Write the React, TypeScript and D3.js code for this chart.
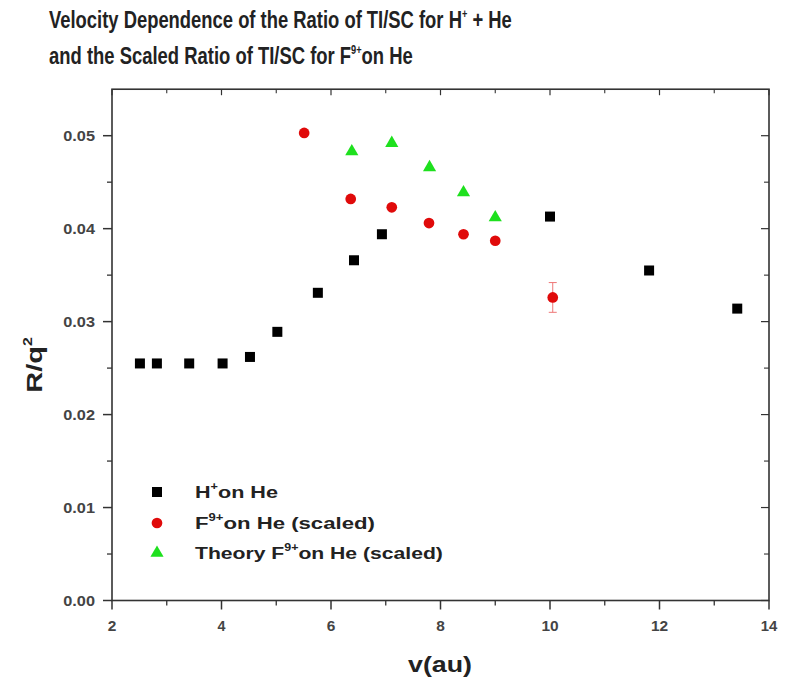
import React, { useLayoutEffect, useRef, useState } from "react";
import * as d3 from "d3";

const hV = [2.51, 2.82, 3.41, 4.02, 4.52, 5.02, 5.76, 6.42, 6.93, 10.0, 11.81, 13.42];
const hR = [0.0255, 0.0255, 0.0255, 0.0255, 0.0262, 0.0289, 0.0331, 0.0366, 0.0394, 0.0413, 0.0355, 0.0314];

const fV = [5.51, 6.36, 7.11, 7.79, 8.42, 9.0, 10.05];
const fR = [0.0503, 0.0432, 0.0423, 0.0406, 0.0394, 0.0387, 0.0326];
const fErr = [0, 0, 0, 0, 0.0003, 0, 0.0016];

const tV = [6.38, 7.11, 7.8, 8.42, 9.0];
const tR = [0.0484, 0.0493, 0.0467, 0.044, 0.0413];

const xTicks = [2, 4, 6, 8, 10, 12, 14];
const xMinor = [3, 5, 7, 9, 11, 13];
const yTicks = [0, 0.01, 0.02, 0.03, 0.04, 0.05];
const yMinor = [0.005, 0.015, 0.025, 0.035, 0.045];

const RED = "#e00a0a";
const GREEN = "#1ee01e";
const AX = "#333";
const FONT = "'Liberation Sans', Arial, sans-serif";

function Fit(props: any) {
  const { x, y, w, anchor = "start", children, ...rest } = props;
  const ref = useRef<SVGTextElement>(null);
  const [s, setS] = useState(1);
  useLayoutEffect(() => {
    if (ref.current) {
      const bw = ref.current.getBBox().width;
      if (bw > 0) setS(w / bw);
    }
  }, [w]);
  return (
    <g transform={`translate(${x},${y}) scale(${s},1)`}>
      <text ref={ref} x={0} y={0} textAnchor={anchor} {...rest}>
        {children}
      </text>
    </g>
  );
}

export default function App() {
  const W = 805, H = 681;
  const L = 112, R = 769, B = 600.5;
  const x = d3.scaleLinear().domain([2, 14]).range([L, R]);
  const y = d3.scaleLinear().domain([0, 0.055]).range([B, B - (0.055 / 0.01) * 92.96]);
  const yTop = y(0.055);
  const tri = d3.symbol().type(d3.symbolTriangle).size(75)();
  const circ = d3.symbol().type(d3.symbolCircle).size(90)();
  const sq = 10;

  return (
    <svg width={W} height={H} style={{ position: "absolute", left: 0, top: 0, background: "#fff" }} fontFamily={FONT}>
      <rect width={W} height={H} fill="#fff" />
      {/* Title */}
      <Fit x={49} y={28} w={463} fontSize={24} fontWeight="bold" fill="#222">
        Velocity Dependence of the Ratio of TI/SC for H<tspan dy={-10} fontSize={12}>+</tspan>
        <tspan dy={10}> + He</tspan>
      </Fit>
      <Fit x={49} y={64} w={364} fontSize={24} fontWeight="bold" fill="#222">
        and the Scaled Ratio of TI/SC for F<tspan dy={-10} fontSize={12}>9+</tspan>
        <tspan dy={10}>on He</tspan>
      </Fit>

      {/* Frame */}
      <rect x={L} y={yTop} width={R - L} height={B - yTop} fill="none" stroke={AX} strokeWidth={1.6} />

      {/* X ticks */}
      {xTicks.map((t) => (
        <g key={"xt" + t}>
          <line x1={x(t)} x2={x(t)} y1={B} y2={B + 9} stroke={AX} strokeWidth={1.5} />
          <line x1={x(t)} x2={x(t)} y1={yTop} y2={yTop + 6} stroke={AX} strokeWidth={1.2} />
          <Fit x={x(t)} y={631} w={String(t).length * 8.6} anchor="middle" fontSize={15} fontWeight="bold" fill="#444">
            {t}
          </Fit>
        </g>
      ))}
      {xMinor.map((t) => (
        <g key={"xm" + t}>
          <line x1={x(t)} x2={x(t)} y1={B} y2={B + 5} stroke={AX} strokeWidth={1.3} />
          <line x1={x(t)} x2={x(t)} y1={yTop} y2={yTop + 4} stroke={AX} strokeWidth={1.1} />
        </g>
      ))}
      {/* Y ticks */}
      {yTicks.map((t) => (
        <g key={"yt" + t}>
          <line x1={L - 9} x2={L} y1={y(t)} y2={y(t)} stroke={AX} strokeWidth={1.5} />
          <line x1={R - 8} x2={R} y1={y(t)} y2={y(t)} stroke={AX} strokeWidth={1.2} />
          <Fit x={95} y={y(t) + 5} w={32} anchor="end" fontSize={14} fontWeight="bold" fill="#444">
            {t.toFixed(2)}
          </Fit>
        </g>
      ))}
      {yMinor.map((t) => (
        <g key={"ym" + t}>
          <line x1={L - 5} x2={L} y1={y(t)} y2={y(t)} stroke={AX} strokeWidth={1.3} />
          <line x1={R - 5} x2={R} y1={y(t)} y2={y(t)} stroke={AX} strokeWidth={1.1} />
        </g>
      ))}

      {/* Axis titles */}
      <Fit x={440} y={672} w={64} anchor="middle" fontSize={22} fontWeight="bold" fill="#222">
        v(au)
      </Fit>
      <g transform="translate(42,365) rotate(-90)">
        <Fit x={0} y={0} w={56} anchor="middle" fontSize={22} fontWeight="bold" fill="#222">
          R/q<tspan dy={-10} fontSize={12}>2</tspan>
        </Fit>
      </g>

      {/* Error bars */}
      {fV.map((v, i) =>
        fErr[i] > 0 ? (
          <g key={"e" + i} stroke="#e77" strokeWidth={1}>
            <line x1={x(v)} x2={x(v)} y1={y(fR[i] - fErr[i])} y2={y(fR[i] + fErr[i])} />
            <line x1={x(v) - 4} x2={x(v) + 4} y1={y(fR[i] - fErr[i])} y2={y(fR[i] - fErr[i])} />
            <line x1={x(v) - 4} x2={x(v) + 4} y1={y(fR[i] + fErr[i])} y2={y(fR[i] + fErr[i])} />
          </g>
        ) : null
      )}

      {/* H+ squares */}
      {hV.map((v, i) => (
        <rect key={"h" + i} x={x(v) - sq / 2} y={y(hR[i]) - sq / 2} width={sq} height={sq} fill="#000" />
      ))}
      {/* F9+ circles */}
      {fV.map((v, i) => (
        <path key={"f" + i} d={circ!} transform={`translate(${x(v)},${y(fR[i])})`} fill={RED} />
      ))}
      {/* Theory triangles */}
      {tV.map((v, i) => (
        <path key={"t" + i} d={tri!} transform={`translate(${x(v)},${y(tR[i]) + 1})`} fill={GREEN} />
      ))}

      {/* Legend */}
      <rect x={157 - sq / 2} y={492 - sq / 2} width={sq} height={sq} fill="#000" />
      <path d={circ!} transform="translate(157,523)" fill={RED} />
      <path d={tri!} transform="translate(157,553)" fill={GREEN} />
      <Fit x={195} y={498} w={83} fontSize={17} fontWeight="bold" fill="#222">
        H<tspan dy={-8} fontSize={10}>+</tspan>
        <tspan dy={8}>on He</tspan>
      </Fit>
      <Fit x={195} y={529} w={180} fontSize={17} fontWeight="bold" fill="#222">
        F<tspan dy={-8} fontSize={10}>9+</tspan>
        <tspan dy={8}>on He (scaled)</tspan>
      </Fit>
      <Fit x={195} y={559} w={248} fontSize={17} fontWeight="bold" fill="#222">
        Theory F<tspan dy={-8} fontSize={10}>9+</tspan>
        <tspan dy={8}>on He (scaled)</tspan>
      </Fit>
    </svg>
  );
}
